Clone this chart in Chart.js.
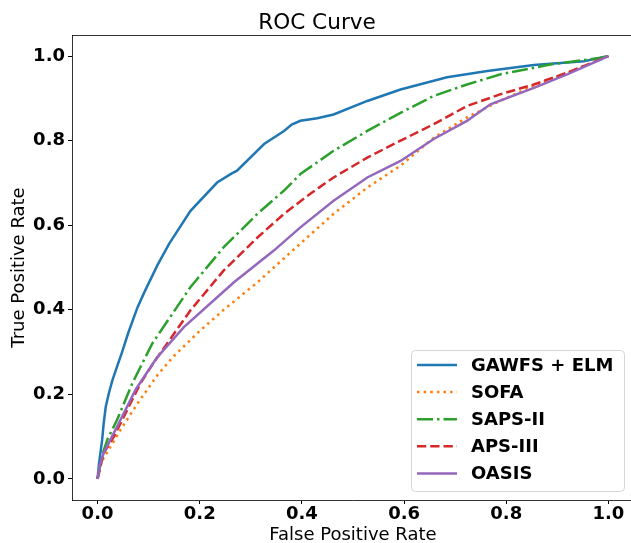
<!DOCTYPE html>
<html>
<head>
<meta charset="utf-8">
<script src="https://cdn.jsdelivr.net/npm/chart.js@4/dist/chart.umd.min.js"></script>
<style>
    html, body { margin: 0; padding: 0; overflow: hidden; background: #fff; }
    canvas { display: block; }
</style>
</head>
<body>
<canvas id="rocChart" width="640" height="543"></canvas>
<script>
// Curve readings (false positive rate / true positive rate)
const seriesNames = ['GAWFS + ELM', 'SOFA', 'SAPS-II', 'APS-III', 'OASIS'];
const seriesColors = ['#1f77b4', '#ff7f0e', '#2ca02c', '#d62728', '#9467bd'];

const gawfsFpr = [0, 0.003, 0.009, 0.012, 0.016, 0.022, 0.029, 0.038, 0.048, 0.06, 0.078, 0.091, 0.117, 0.14, 0.182, 0.234, 0.262, 0.273, 0.326, 0.365, 0.38, 0.397, 0.43, 0.462, 0.528, 0.593, 0.684, 0.763, 0.854, 0.952, 1];
const gawfsTpr = [0, 0.037, 0.092, 0.131, 0.17, 0.202, 0.233, 0.265, 0.30, 0.345, 0.405, 0.44, 0.505, 0.556, 0.634, 0.701, 0.722, 0.729, 0.792, 0.823, 0.838, 0.847, 0.853, 0.862, 0.894, 0.921, 0.95, 0.965, 0.979, 0.988, 1];

const sofaFpr = [0, 0.006, 0.045, 0.078, 0.117, 0.149, 0.2, 0.247, 0.313, 0.378, 0.462, 0.528, 0.593, 0.658, 0.723, 0.789, 0.854, 0.919, 1];
const sofaTpr = [0, 0.037, 0.116, 0.178, 0.245, 0.29, 0.35, 0.40, 0.465, 0.536, 0.627, 0.689, 0.741, 0.807, 0.855, 0.895, 0.93, 0.96, 1];

const sapsFpr = [0, 0.01, 0.02, 0.038, 0.068, 0.107, 0.182, 0.247, 0.313, 0.365, 0.397, 0.462, 0.528, 0.593, 0.658, 0.723, 0.789, 0.886, 0.984, 1];
const sapsTpr = [0, 0.06, 0.095, 0.139, 0.226, 0.32, 0.454, 0.548, 0.627, 0.682, 0.721, 0.776, 0.823, 0.866, 0.906, 0.933, 0.957, 0.98, 0.996, 1];

const apsFpr = [0, 0.012, 0.032, 0.058, 0.084, 0.11, 0.182, 0.247, 0.313, 0.365, 0.417, 0.462, 0.528, 0.593, 0.658, 0.723, 0.789, 0.854, 0.919, 0.984, 1];
const apsTpr = [0, 0.061, 0.1, 0.163, 0.226, 0.275, 0.399, 0.493, 0.571, 0.627, 0.675, 0.713, 0.76, 0.8, 0.839, 0.882, 0.91, 0.933, 0.961, 0.992, 1];

const oasisFpr = [0, 0.005, 0.012, 0.038, 0.075, 0.117, 0.169, 0.267, 0.345, 0.397, 0.462, 0.528, 0.593, 0.658, 0.723, 0.769, 0.854, 0.919, 1];
const oasisTpr = [0, 0.035, 0.061, 0.123, 0.212, 0.288, 0.359, 0.465, 0.54, 0.595, 0.658, 0.713, 0.752, 0.804, 0.847, 0.886, 0.925, 0.957, 1];

const tickValues = [0, 0.2, 0.4, 0.6, 0.8, 1.0];

const FONT = 'DejaVu Sans';
const LW = 2.5;
const dashes = [[], [LW, LW * 1.65], [LW * 6.4, LW * 1.6, LW, LW * 1.6], [LW * 3.7, LW * 1.6], []];

function toPoints(xs, ys) {
    return xs.map((x, i) => ({ x: x, y: ys[i] }));
}

const curves = [
    toPoints(gawfsFpr, gawfsTpr),
    toPoints(sofaFpr, sofaTpr),
    toPoints(sapsFpr, sapsTpr),
    toPoints(apsFpr, apsTpr),
    toPoints(oasisFpr, oasisTpr)
];

const datasets = seriesNames.map((name, i) => ({
    label: name,
    data: curves[i],
    borderColor: seriesColors[i],
    backgroundColor: seriesColors[i],
    borderWidth: LW,
    borderDash: dashes[i],
    pointRadius: 0,
    fill: false,
    tension: 0,
    order: seriesNames.length - i
}));

// top spine + matplotlib-style legend box in lower right
const framePlugin = {
    id: 'frame',
    afterDraw(chart) {
        const ctx = chart.ctx;
        const area = chart.chartArea;
        ctx.save();
        ctx.strokeStyle = 'rgba(0,0,0,0.8)';
        ctx.lineWidth = 1;
        ctx.beginPath();
        ctx.moveTo(area.left, Math.round(area.top) + 0.5);
        ctx.lineTo(area.right, Math.round(area.top) + 0.5);
        ctx.stroke();

        // legend
        const bx = 411.5, by = 350.5, bw = 213, bh = 141, r = 4;
        ctx.beginPath();
        ctx.moveTo(bx + r, by);
        ctx.arcTo(bx + bw, by, bx + bw, by + bh, r);
        ctx.arcTo(bx + bw, by + bh, bx, by + bh, r);
        ctx.arcTo(bx, by + bh, bx, by, r);
        ctx.arcTo(bx, by, bx + bw, by, r);
        ctx.closePath();
        ctx.fillStyle = 'rgba(255,255,255,0.8)';
        ctx.fill();
        ctx.strokeStyle = '#d6d6d6';
        ctx.stroke();

        ctx.font = 'bold 18px "' + FONT + '"';
        ctx.textBaseline = 'middle';
        ctx.textAlign = 'left';
        chart.data.datasets.forEach((ds, i) => {
            const y = 365 + i * 27.1;
            ctx.strokeStyle = ds.borderColor;
            ctx.lineWidth = LW;
            ctx.setLineDash(ds.borderDash);
            ctx.beginPath();
            ctx.moveTo(417, y);
            ctx.lineTo(457, y);
            ctx.stroke();
            ctx.setLineDash([]);
            ctx.fillStyle = '#000';
            ctx.fillText(ds.label, 471, y + 1);
        });
        ctx.restore();
    }
};

function setTicks(scale) {
    scale.ticks = tickValues.map(v => ({ value: v }));
}

const rocChart = new Chart(
    document.getElementById('rocChart').getContext('2d'),
    {
        type: 'line',
        data: { datasets: datasets },
        options: {
            responsive: false,
            animation: false,
            devicePixelRatio: 1,
            layout: { padding: { top: 0, left: 0, right: 6, bottom: 0 } },
            plugins: {
                legend: { display: false },
                tooltip: { enabled: false },
                title: {
                    display: true,
                    text: 'ROC Curve',
                    color: '#000',
                    font: { family: FONT, size: 21.6, weight: 'normal', lineHeight: 1 },
                    padding: { top: 13, bottom: 0.4 }
                }
            },
            scales: {
                x: {
                    type: 'linear',
                    min: -0.05,
                    max: 1.05,
                    afterBuildTicks: setTicks,
                    afterFit: scale => { scale.height = 43; },
                    grid: { drawOnChartArea: false, drawTicks: true, tickLength: 4, color: '#000' },
                    border: { display: true, color: 'rgba(0,0,0,0.8)', width: 1 },
                    ticks: {
                        color: '#000',
                        padding: 1,
                        maxRotation: 0,
                        font: { family: FONT, size: 18, weight: 'bold', lineHeight: 1 },
                        callback: v => v.toFixed(1)
                    },
                    title: {
                        display: true,
                        text: 'False Positive Rate',
                        color: '#000',
                        font: { family: FONT, size: 18, weight: 'normal', lineHeight: 0.8 },
                        padding: 0
                    }
                },
                y: {
                    type: 'linear',
                    min: -0.05,
                    max: 1.05,
                    afterBuildTicks: setTicks,
                    afterFit: scale => { scale.width = 72; },
                    grid: { drawOnChartArea: false, drawTicks: true, tickLength: 4, color: '#000' },
                    border: { display: true, color: 'rgba(0,0,0,0.8)', width: 1 },
                    ticks: {
                        color: '#000',
                        padding: 3,
                        font: { family: FONT, size: 18, weight: 'bold', lineHeight: 1 },
                        callback: v => v.toFixed(1)
                    },
                    title: {
                        display: true,
                        text: 'True Positive Rate',
                        color: '#000',
                        font: { family: FONT, size: 18, weight: 'normal', lineHeight: 1.2 },
                        padding: { top: 9, bottom: 0 }
                    }
                }
            }
        },
        plugins: [framePlugin]
    }
);
</script>
</body>
</html>
